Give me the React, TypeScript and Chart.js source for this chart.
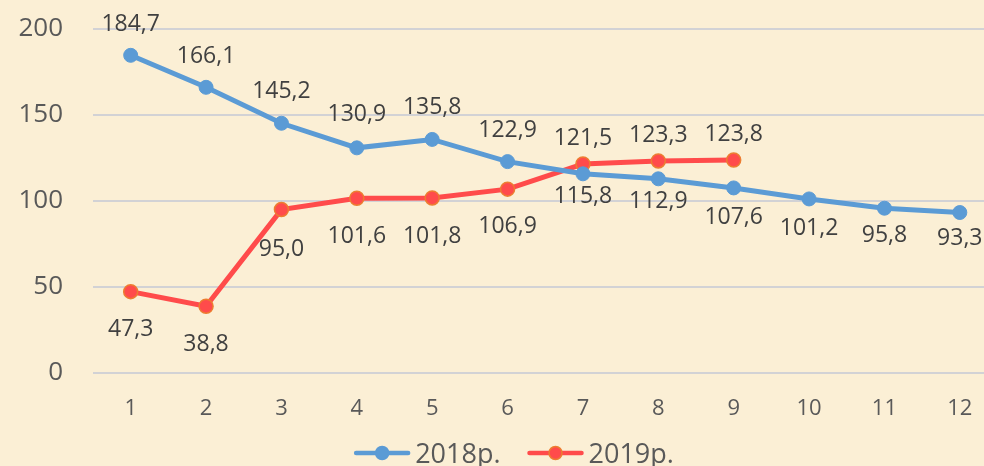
import React, { useEffect, useRef } from "react";
import { Chart, registerables } from "chart.js";

Chart.register(...registerables);

// ---- data ----
const months = ["1", "2", "3", "4", "5", "6", "7", "8", "9", "10", "11", "12"];
const series2018 = [184.7, 166.1, 145.2, 130.9, 135.8, 122.9, 115.8, 112.9, 107.6, 101.2, 95.8, 93.3];
const series2019 = [47.3, 38.8, 95.0, 101.6, 101.8, 106.9, 121.5, 123.3, 123.8];
const seriesNames = ["2018р.", "2019р."];
const yTicks = [0, 50, 100, 150, 200];

// ---- style ----
const FONT = '"Open Sans", "Noto Sans", sans-serif';
const BLUE = "#5B9BD5";
const RED = "#FF4B4B";
const RED_BORDER = "#ED7D31";
const TEXT = "#404040";
const AXIS_TEXT = "#595959";
const BG = "#FBEFD5";
const LABEL_SIZE = 23;
// vertical offset (px) of each value label from its point centre
const labelOffsets = [
  [-33, -33, -33, -35, -34, -33, 21, 21, 28, 28, 26, 24],
  [36, 37, 38, 37, 37, 36, -27, -27, -27],
];
const LEGEND_CENTER_X = 514;
const LEGEND_Y = 453;

const fmt = (v: number) => v.toFixed(1).replace(".", ",");

const valueLabels = {
  id: "valueLabels",
  afterDatasetsDraw(chart: any) {
    const ctx = chart.ctx;
    ctx.save();
    ctx.font = `${LABEL_SIZE}px ${FONT}`;
    ctx.fillStyle = TEXT;
    ctx.textAlign = "center";
    ctx.textBaseline = "alphabetic";
    chart.data.datasets.forEach((ds: any, di: number) => {
      const meta = chart.getDatasetMeta(di);
      meta.data.forEach((pt: any, i: number) => {
        const v = ds.data[i];
        if (v == null) return;
        ctx.fillText(fmt(v), pt.x, pt.y + labelOffsets[di][i] + 0.357 * LABEL_SIZE);
      });
    });
    ctx.restore();
  },
};

const customLegend = {
  id: "customLegend",
  afterDraw(chart: any) {
    const ctx = chart.ctx;
    const size = 27;
    ctx.save();
    ctx.font = `${size}px ${FONT}`;
    const lineLen = 56;
    const gapText = 5;
    const gapItem = 27;
    const items = chart.data.datasets.map((ds: any) => ({
      text: ds.label,
      color: ds.borderColor,
      fill: ds.pointBackgroundColor,
      border: ds.pointBorderColor,
      w: ctx.measureText(ds.label).width,
    }));
    let total = 0;
    items.forEach((it: any, i: number) => {
      total += lineLen + gapText + it.w + (i < items.length - 1 ? gapItem : 0);
    });
    let x = LEGEND_CENTER_X - total / 2;
    items.forEach((it: any) => {
      ctx.strokeStyle = it.color;
      ctx.lineWidth = 4.5;
      ctx.lineCap = "round";
      ctx.beginPath();
      ctx.moveTo(x + 2, LEGEND_Y);
      ctx.lineTo(x + lineLen - 2, LEGEND_Y);
      ctx.stroke();
      ctx.beginPath();
      ctx.arc(x + lineLen / 2, LEGEND_Y, 6.5, 0, Math.PI * 2);
      ctx.fillStyle = it.fill;
      ctx.fill();
      ctx.lineWidth = 1.5;
      ctx.strokeStyle = it.border;
      ctx.stroke();
      ctx.fillStyle = AXIS_TEXT;
      ctx.textAlign = "left";
      ctx.textBaseline = "alphabetic";
      ctx.fillText(it.text, x + lineLen + gapText, LEGEND_Y + 0.357 * size);
      x += lineLen + gapText + it.w + gapItem;
    });
    ctx.restore();
  },
};

export default function App() {
  const ref = useRef<HTMLCanvasElement | null>(null);

  useEffect(() => {
    if (!ref.current) return;
    Chart.defaults.font.family = FONT;
    const chart = new Chart(ref.current, {
      type: "line",
      data: {
        labels: months,
        datasets: [
          {
            label: seriesNames[0],
            data: series2018,
            borderColor: BLUE,
            backgroundColor: BLUE,
            pointBackgroundColor: BLUE,
            pointBorderColor: BLUE,
            pointRadius: 7,
            pointBorderWidth: 1,
            borderWidth: 5,
            tension: 0,
          },
          {
            label: seriesNames[1],
            data: series2019,
            borderColor: RED,
            backgroundColor: RED,
            pointBackgroundColor: RED,
            pointBorderColor: RED_BORDER,
            pointRadius: 7,
            pointBorderWidth: 1.5,
            borderWidth: 5,
            tension: 0,
          },
        ],
      },
      options: {
        animation: false,
        responsive: true,
        maintainAspectRatio: false,
        layout: { padding: { left: 0, right: 3, top: 29, bottom: 0 } },
        plugins: {
          legend: { display: false },
          tooltip: { enabled: false },
          title: { display: false },
        },
        scales: {
          x: {
            type: "category",
            offset: true,
            grid: { display: false, drawTicks: false },
            border: { display: false },
            ticks: { color: AXIS_TEXT, font: { size: 22 }, padding: 23 },
            afterFit: (s: any) => {
              s.height = 93;
            },
          },
          y: {
            min: 0,
            max: 200,
            afterBuildTicks: (s: any) => {
              s.ticks = yTicks.map((v) => ({ value: v }));
            },
            grid: { color: "rgba(196,200,212,0.75)", lineWidth: 2, drawTicks: false },
            border: { display: false },
            ticks: { color: AXIS_TEXT, font: { size: 26 }, padding: 30 },
            afterFit: (s: any) => {
              s.width = 93;
              s.paddingTop = 0;
              s.paddingBottom = 0;
            },
          },
        },
      },
      plugins: [valueLabels, customLegend],
    });
    return () => chart.destroy();
  }, []);

  return (
    <div
      style={{
        position: "fixed",
        left: 0,
        top: 0,
        width: 984,
        height: 466,
        overflow: "hidden",
        background: BG,
      }}
    >
      <div style={{ position: "relative", width: 1006, height: 466 }}>
        <canvas ref={ref} />
      </div>
    </div>
  );
}
